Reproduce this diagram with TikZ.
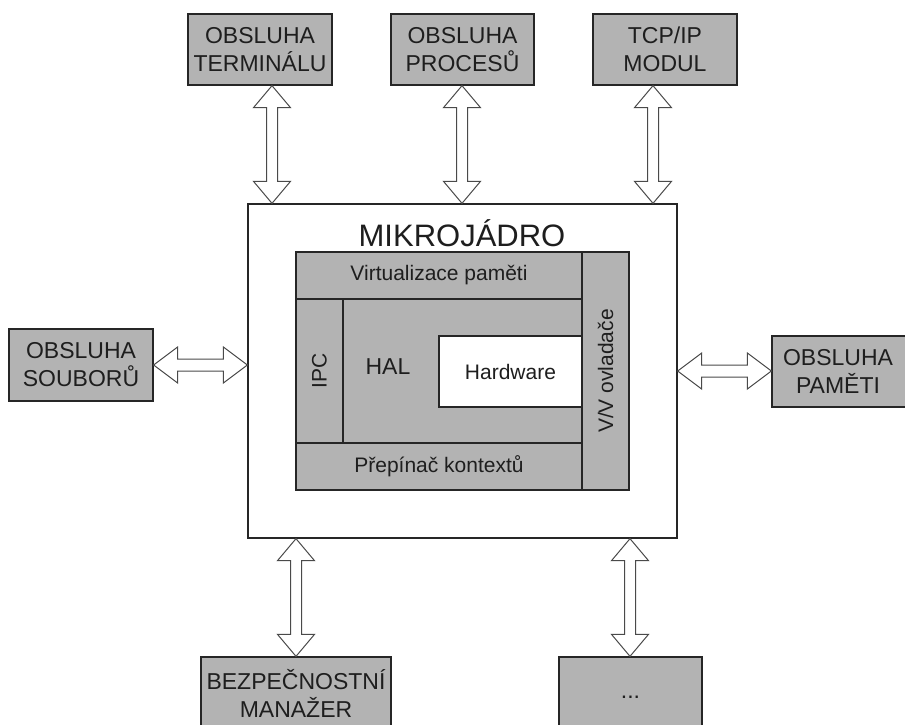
\documentclass[tikz,border=0pt]{standalone}
\usepackage{fontspec}
\setmainfont{Liberation Sans}
\usetikzlibrary{calc}
\definecolor{boxgray}{HTML}{B3B3B3}
\definecolor{linec}{HTML}{262626}
\definecolor{txt}{HTML}{1E1E1E}
\definecolor{arrc}{HTML}{4A4A4A}
\tikzset{
  mod/.style={draw=linec, line width=1.3pt, fill=boxgray, text=txt, align=center,
    inner sep=0pt, font=\fontsize{23}{28}\selectfont},
  part/.style={draw=linec, line width=1.1pt, fill=boxgray, inner sep=0pt},
  hwbox/.style={draw=linec, line width=1.1pt, fill=white, inner sep=0pt, text=txt,
    font=\fontsize{21}{25}\selectfont},
  lbl/.style={text=txt, inner sep=0pt, font=\fontsize{21}{25}\selectfont},
  darr/.style={draw=arrc, line width=1pt, fill=white, line join=miter},
}
\newcommand\vdarr[3]{%
  \draw[darr] let \p1=(#2), \p2=(#3) in
  (#1pt,\y1) -- (#1pt+18.5pt,\y1-22pt) -- (#1pt+5.5pt,\y1-22pt) -- (#1pt+5.5pt,\y2+22pt)
  -- (#1pt+18.5pt,\y2+22pt) -- (#1pt,\y2) -- (#1pt-18.5pt,\y2+22pt) -- (#1pt-5.5pt,\y2+22pt)
  -- (#1pt-5.5pt,\y1-22pt) -- (#1pt-18.5pt,\y1-22pt) -- cycle;}
\newcommand\hdarr[3]{%
  \draw[darr] let \p1=(#2), \p2=(#3) in
  (\x1,#1pt) -- (\x1+24pt,#1pt+18pt) -- (\x1+24pt,#1pt+6pt) -- (\x2-24pt,#1pt+6pt)
  -- (\x2-24pt,#1pt+18pt) -- (\x2,#1pt) -- (\x2-24pt,#1pt-18pt) -- (\x2-24pt,#1pt-6pt)
  -- (\x1+24pt,#1pt-6pt) -- (\x1+24pt,#1pt-18pt) -- cycle;}
\begin{document}
\begin{tikzpicture}[x=1pt,y=1pt]
\useasboundingbox (0,0) rectangle (905,-724);
\clip (0,0) rectangle (905,-724);
\fill[white] (0,0) rectangle (905,-724);

% top modules
\node[mod, minimum width=144, minimum height=71] (term) at (260,-49.5) {OBSLUHA\\TERMINÁLU};
\node[mod, minimum width=143, minimum height=71] (proc) at (462.5,-49.5) {OBSLUHA\\PROCESŮ};
\node[mod, minimum width=144, minimum height=71] (tcp) at (665,-49.5) {TCP/IP\\MODUL};
% side modules
\node[mod, minimum width=144, minimum height=72] (sou) at (81,-365) {OBSLUHA\\SOUBORŮ};
\node[mod, minimum width=144, minimum height=71] (pam) at (844,-371.5) {\hspace*{-12pt}OBSLUHA\\\hspace*{-12pt}PAMĚTI};
% bottom modules
\node[mod, minimum width=190, minimum height=72] (bez) at (296,-693) {BEZPEČNOSTNÍ\\MANAŽER};
\node[mod, minimum width=143, minimum height=72] (dots) at (630.5,-693) {\raisebox{-10pt}{...}};

% microkernel
\node[draw=linec, line width=1.3pt, fill=white, minimum width=429, minimum height=334, inner sep=0pt] (mk) at (462.5,-371) {};
\node[text=txt, inner sep=0pt, font=\fontsize{31}{37}\selectfont] (title) at (462,-233) {MIKROJÁDRO};

\node[part, minimum width=286, minimum height=47] (virt) at (439,-275.5) {};
\node[part, minimum width=286, minimum height=47] (ctx) at (439,-466.5) {};
\node[part, minimum width=47, minimum height=144] (ipc) at (319.5,-371) {};
\node[part, minimum width=239, minimum height=144] (hal) at (462.5,-371) {};
\node[part, minimum width=47, minimum height=238] (vv) at (605.5,-371) {};
\node[hwbox, minimum width=143, minimum height=71] (hw) at (510.5,-371.5) {Hardware};

\node[lbl] at (virt.center) {Virtualizace paměti};
\node[lbl] at (ctx.center) {Přepínač kontextů};
\node[lbl, rotate=90] at (ipc.center) {IPC};
\node[lbl, rotate=90] at (vv.center) {V/V ovladače};
\node[lbl, font=\fontsize{23}{27}\selectfont] at (388,-367) {HAL};

% arrows
\vdarr{272}{term.south}{mk.north}
\vdarr{462}{proc.south}{mk.north}
\vdarr{653}{tcp.south}{mk.north}
\vdarr{296}{mk.south}{bez.north}
\vdarr{630}{mk.south}{dots.north}
\hdarr{-365}{sou.east}{mk.west}
\hdarr{-371}{mk.east}{pam.west}
\end{tikzpicture}
\end{document}
